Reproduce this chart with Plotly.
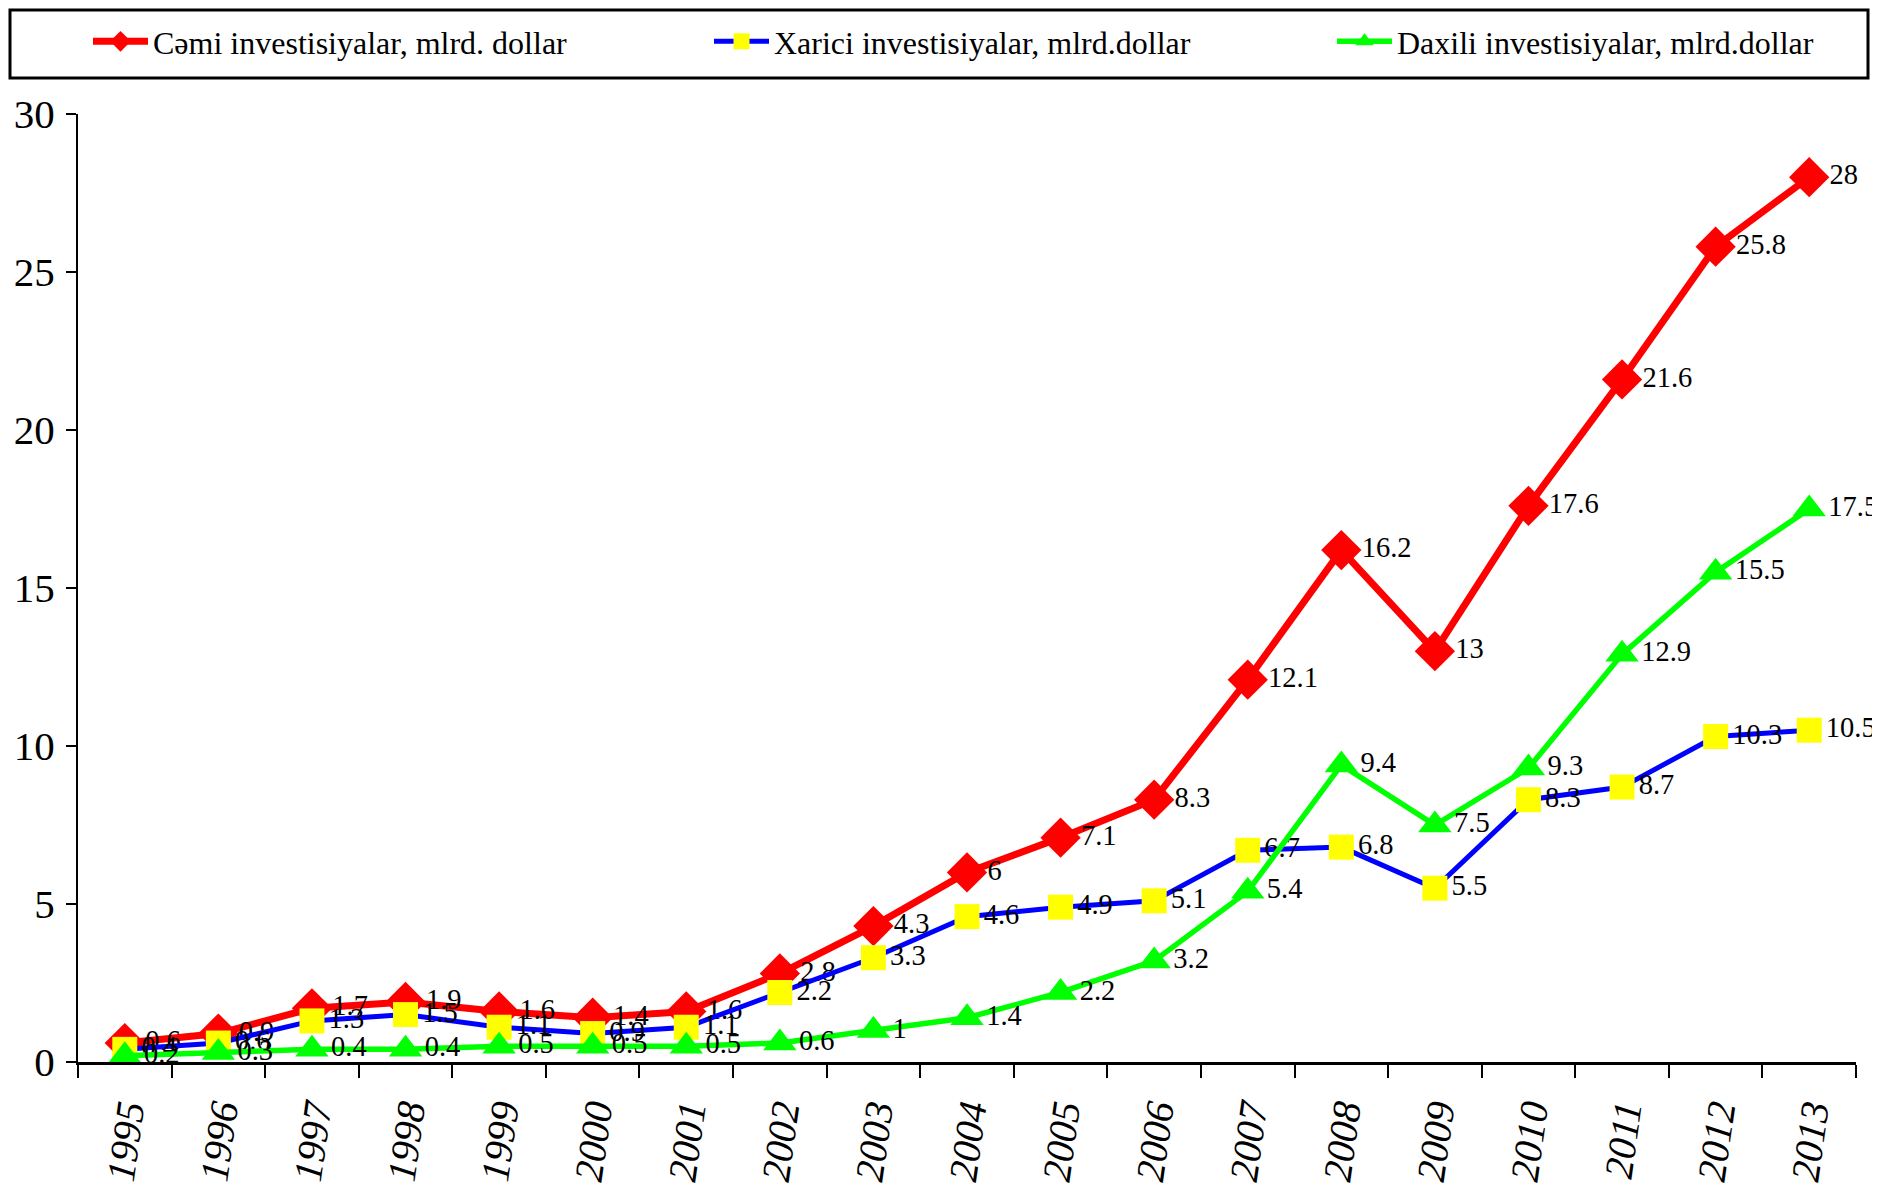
import plotly.graph_objects as go

years = [str(y) for y in range(1995, 2014)]
total = [0.6, 0.9, 1.7, 1.9, 1.6, 1.4, 1.6, 2.8, 4.3, 6, 7.1, 8.3, 12.1, 16.2, 13, 17.6, 21.6, 25.8, 28]
foreign = [0.4, 0.6, 1.3, 1.5, 1.1, 0.9, 1.1, 2.2, 3.3, 4.6, 4.9, 5.1, 6.7, 6.8, 5.5, 8.3, 8.7, 10.3, 10.5]
domestic = [0.2, 0.3, 0.4, 0.4, 0.5, 0.5, 0.5, 0.6, 1, 1.4, 2.2, 3.2, 5.4, 9.4, 7.5, 9.3, 12.9, 15.5, 17.5]

names = ["Cəmi investisiyalar, mlrd. dollar",
         "Xarici investisiyalar, mlrd.dollar",
         "Daxili investisiyalar, mlrd.dollar"]
y_ticks = [0, 5, 10, 15, 20, 25, 30]

SERIF = "Liberation Serif, Times New Roman, serif"
# page body has an 8px margin; figure sized so it fits the 1880x1203 window
OFF = 8
W, H = 1880 - OFF, 1203 - 2 * OFF
ML, MT = 78 - OFF, 114 - OFF
MR = W - (1856 - OFF)
MB = H - (1062 - OFF)
PW, PH = W - ML - MR, H - MT - MB

fig = go.Figure()
specs = [
    (total, names[0], "#FF0000", 7, dict(symbol="diamond", size=31, color="#FF0000"), "legend"),
    (foreign, names[1], "#0000FF", 5, dict(symbol="square", size=25, color="#FFFF00"), "legend2"),
    (domestic, names[2], "#00FF00", 5.5, dict(symbol="triangle-up", size=29, color="#00FF00"), "legend3"),
]
for vals, name, lc, lw, mk, lg in specs:
    fig.add_trace(go.Scatter(
        x=years, y=vals, name=name, legend=lg,
        mode="lines+markers+text",
        text=[f"{v:g}" for v in vals],
        textposition="middle right",
        textfont=dict(family=SERIF, size=28.5, color="black"),
        line=dict(color=lc, width=lw),
        marker=dict(line=dict(width=0), **mk),
        cliponaxis=False,
    ))

def legend_at(text_left_screen):
    left = text_left_screen - OFF - 65
    top = 14 - OFF
    return dict(
        orientation="h",
        x=(left - ML) / PW, y=1 + (MT - top) / PH,
        xanchor="left", yanchor="top",
        font=dict(family=SERIF, size=32, color="black"),
        bgcolor="rgba(0,0,0,0)", borderwidth=0,
        itemwidth=55, itemclick=False, itemdoubleclick=False,
    )

bx0, bx1, by0, by1 = 10 - OFF, 1868 - OFF, 10 - OFF, 78 - OFF
fig.update_layout(
    width=W, height=H,
    paper_bgcolor="white", plot_bgcolor="white",
    margin=dict(l=ML, r=MR, t=MT, b=MB, autoexpand=False),
    showlegend=True,
    legend=legend_at(153),
    legend2=legend_at(774),
    legend3=legend_at(1397),
    shapes=[dict(type="rect", xref="paper", yref="paper",
                 x0=(bx0 - ML) / PW, x1=(bx1 - ML) / PW,
                 y0=1 + (MT - by1) / PH, y1=1 + (MT - by0) / PH,
                 line=dict(color="black", width=3), fillcolor="rgba(0,0,0,0)")],
)
fig.update_xaxes(
    type="category", range=[-0.5, 18.5], tickson="boundaries",
    showline=True, linecolor="black", linewidth=3,
    ticks="outside", ticklen=13, tickwidth=2, tickcolor="black",
    tickangle=-82, ticklabelstandoff=8,
    showgrid=False, zeroline=False, automargin=False,
    tickfont=dict(family=SERIF, size=40, color="black", style="italic"),
)
fig.update_yaxes(
    range=[0, 30], tickvals=y_ticks,
    showline=True, linecolor="black", linewidth=2,
    ticks="outside", ticklen=10, tickwidth=2, tickcolor="black",
    ticklabelstandoff=3, automargin=False,
    showgrid=False, zeroline=False,
    tickfont=dict(family=SERIF, size=41, color="black"),
)

fig.write_html("out.html")
